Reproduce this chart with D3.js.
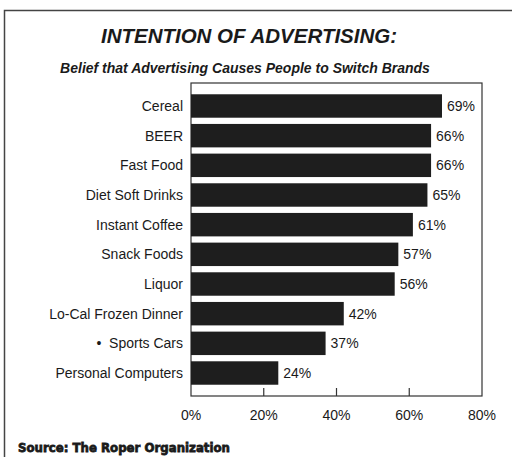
<!DOCTYPE html>
<html>
<head>
<meta charset="utf-8">
<script src="https://cdn.jsdelivr.net/npm/d3@7"></script>
<style>
  body { margin: 0; background: #fff; }
  text { font-family: "Liberation Sans", Arial, sans-serif; fill: #1a1a1a; }
</style>
</head>
<body>
<svg id="chart"></svg>
<script>
const categories = ["Cereal", "BEER", "Fast Food", "Diet Soft Drinks", "Instant Coffee",
  "Snack Foods", "Liquor", "Lo-Cal Frozen Dinner", "\u2022  Sports Cars", "Personal Computers"];
const values = [69, 66, 66, 65, 61, 57, 56, 42, 37, 24];
const ticks = [0, 20, 40, 60, 80];

const width = 512, height = 457;
const plot = { left: 191, right: 482, top: 83, bottom: 396 };

const svg = d3.select('#chart').attr('width', width).attr('height', height);

// outer frame: top and left edges only
svg.append("path")
  .attr("d", `M4.5,${height} V10.5 H${width}`)
  .attr("fill", "none")
  .attr("stroke", "#444")
  .attr("stroke-width", 1.5);

svg.append("text")
  .attr("x", 249).attr("y", 43)
  .attr("text-anchor", "middle")
  .style("font-size", "20.5px").style("font-weight", "bold").style("font-style", "italic")
  .text("INTENTION OF ADVERTISING:");

svg.append("text")
  .attr("x", 245).attr("y", 73)
  .attr("text-anchor", "middle")
  .style("font-size", "14px").style("font-weight", "bold").style("font-style", "italic")
  .text("Belief that Advertising Causes People to Switch Brands");

const x = d3.scaleLinear().domain([0, 80]).range([plot.left, plot.right]);
const y = d3.scaleBand().domain(categories).range([plot.top, plot.bottom])
  .paddingInner(0.21).paddingOuter(0.38);

// plot box
svg.append("rect")
  .attr("x", plot.left).attr("y", plot.top)
  .attr("width", plot.right - plot.left).attr("height", plot.bottom - plot.top)
  .attr("fill", "none").attr("stroke", "#333").attr("stroke-width", 1.2);

// inner tick marks
svg.append("g")
  .selectAll("line")
  .data(ticks.slice(1, -1))
  .enter()
  .append("line")
  .attr("x1", d => x(d)).attr("x2", d => x(d))
  .attr("y1", plot.bottom - 8).attr("y2", plot.bottom)
  .attr("stroke", "#333").attr("stroke-width", 1.2);

svg.append("g")
  .selectAll("text")
  .data(ticks)
  .enter()
  .append("text")
  .attr("x", d => x(d)).attr("y", 420)
  .attr("text-anchor", "middle")
  .style("font-size", "14px")
  .text(d => d + "%");

svg.append("g")
  .selectAll("rect")
  .data(values)
  .enter()
  .append("rect")
  .attr("x", x(0))
  .attr("y", (d, i) => y(categories[i]))
  .attr("width", d => x(d) - x(0))
  .attr("height", y.bandwidth())
  .attr("fill", "#1e1e1e");

svg.append("g")
  .selectAll("text")
  .data(values)
  .enter()
  .append("text")
  .attr("x", d => x(d) + 5)
  .attr("y", (d, i) => y(categories[i]) + y.bandwidth() / 2)
  .attr("dy", "0.36em")
  .style("font-size", "14px")
  .text(d => d + "%");

svg.append("g")
  .selectAll("text")
  .data(categories)
  .enter()
  .append("text")
  .attr("x", 183)
  .attr("y", d => y(d) + y.bandwidth() / 2)
  .attr("dy", "0.36em")
  .attr("text-anchor", "end")
  .attr("xml:space", "preserve")
  .style("font-size", "14px")
  .text(d => d);

svg.append("text")
  .attr("x", 18).attr("y", 452)
  .attr("textLength", 212).attr("lengthAdjust", "spacingAndGlyphs")
  .style("font-size", "13px").style("font-weight", "900")
  .style("font-family", "'Arial Black', 'DejaVu Sans', sans-serif")
  .style("stroke", "#1a1a1a").style("stroke-width", 0.8)
  .text("Source: The Roper Organization");
</script>
</body>
</html>
